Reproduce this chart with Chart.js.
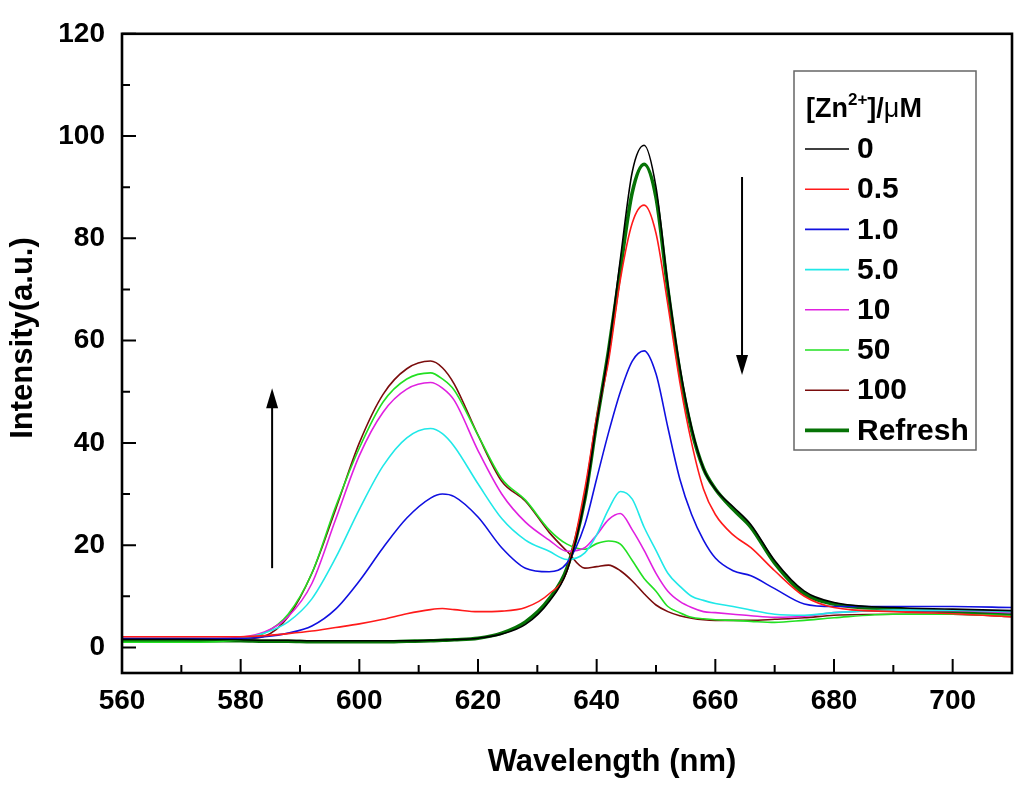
<!DOCTYPE html>
<html>
<head>
<meta charset="utf-8">
<script src="https://cdn.jsdelivr.net/npm/chart.js@4.4.1/dist/chart.umd.min.js"></script>
<style>
  html, body { margin: 0; padding: 0; background: #fff; }
  #wrap { width: 1024px; height: 788px; }
</style>
</head>
<body>
<div id="wrap"><canvas id="spectra" width="1024" height="788"></canvas></div>
<script>
// wavelengths (nm) shared by every spectrum
const wavelength = [560, 570, 580, 584, 588, 592, 596, 600, 604, 608, 612, 614, 616, 620, 624, 628, 632, 635, 638, 640, 642,
                    644, 646, 648, 650, 652, 654, 656, 658, 660, 663, 666, 670, 675, 680, 690, 700, 710];

// intensities (a.u.), one array per [Zn2+]
const zn0     = [1.6, 1.6, 1.5, 1.4, 1.4, 1.3, 1.3, 1.3, 1.3, 1.3, 1.4, 1.45, 1.5, 1.8, 2.6, 4.5, 9, 15, 29, 44, 58,
                 76, 93, 98.2, 90, 71, 55, 43, 35, 31, 27.5, 24, 17, 11, 8.8, 7.8, 7.5, 7.2];
const zn05    = [2.1, 2.1, 2.1, 2.3, 2.7, 3.2, 3.9, 4.6, 5.5, 6.6, 7.4, 7.6, 7.4, 7.0, 7.1, 7.8, 10.5, 15, 31, 45, 56,
                 72, 83, 86.5, 81, 67, 52, 40, 31, 26, 22, 19.5, 15, 10, 7.8, 7.0, 6.6, 6.0];
const zn1     = [1.8, 1.8, 1.8, 2.1, 2.8, 4.2, 7.5, 13, 19.5, 25.3, 29.2, 30, 29.5, 25.5, 19.5, 15.5, 14.8, 16.5, 24, 33, 42,
                 50, 56, 58, 53.5, 43, 33, 26, 21, 17.5, 15, 14, 11.5, 8.5, 8, 8, 8, 7.8];
const zn5     = [1.6, 1.6, 1.8, 2.8, 5.0, 9.5, 17.5, 27, 35.5, 41, 42.8, 41.8, 39.3, 32, 25.2, 21, 18.8, 17.2, 18.5, 22, 27,
                 30.5, 29.0, 23.5, 19, 14.5, 12, 10, 9.2, 8.6, 8, 7.3, 6.5, 6.3, 6.8, 7.3, 7.3, 7.0];
const zn10    = [1.6, 1.6, 2.0, 3.0, 6.0, 12.5, 25, 37.5, 46, 50.5, 51.8, 50.7, 48.3, 38.5, 30, 24.5, 21, 18.8, 19.5, 22, 25,
                 26.2, 23, 19, 14.5, 11, 9, 7.8, 7, 6.8, 6.5, 6.2, 5.9, 6.1, 6.8, 7.2, 7.2, 6.8];
const zn50    = [1.0, 1.0, 1.5, 2.8, 6.5, 14.5, 27.5, 39, 48, 52.5, 53.7, 52.5, 50.3, 41.5, 33, 28.8, 23, 20.2, 19.2, 20.3, 20.8,
                 20.2, 17, 13.5, 11, 8, 6.8, 5.9, 5.6, 5.4, 5.3, 5.1, 4.9, 5.3, 5.8, 6.5, 6.5, 6.2];
const zn100   = [1.7, 1.7, 1.7, 2.2, 6, 14.5, 27, 40, 49.5, 54.5, 56, 54.7, 51.5, 41.5, 32.5, 28.6, 22.5, 18.8, 15.5, 15.8, 16.1,
                 15, 13, 10.5, 8.3, 7, 6.2, 5.7, 5.4, 5.3, 5.3, 5.3, 5.5, 5.8, 6.3, 6.5, 6.5, 6.0];
const refresh = [1.3, 1.3, 1.3, 1.2, 1.2, 1.1, 1.1, 1.1, 1.1, 1.2, 1.3, 1.4, 1.5, 1.8, 2.8, 5, 9.5, 15.5, 29, 44, 58,
                 74, 89, 94.5, 88, 70, 54, 42.5, 35, 31, 27, 23.5, 16.5, 10.5, 8.5, 7.5, 7, 6.5];

const seriesLabels = ['0', '0.5', '1.0', '5.0', '10', '50', '100', 'Refresh'];
const seriesValues = [zn0, zn05, zn1, zn5, zn10, zn50, zn100, refresh];
const seriesColors = ['#000000', '#ff1a1a', '#1010e0', '#20e8e8', '#e020e0', '#22e022', '#7a0c0c', '#067306'];
const seriesWidths = [1.6, 1.6, 1.6, 1.6, 1.6, 1.6, 1.6, 3.6];

// arrows: x position and start/end intensity
const arrows = [
  { x: 585.3, from: 15.5, to: 50.7 },
  { x: 664.5, from: 92, to: 53.3 }
];

const FONT = "'Liberation Sans', Arial, Helvetica, sans-serif";

const datasets = seriesLabels.map((lab, i) => ({
  label: lab,
  data: wavelength.map((w, j) => ({ x: w, y: seriesValues[i][j] })),
  borderColor: seriesColors[i],
  borderWidth: seriesWidths[i],
  pointRadius: 0,
  fill: false,
  cubicInterpolationMode: 'monotone'
}));

// frame, inward ticks, axis titles and arrows
const frameTicks = {
  id: 'frameTicks',
  afterDraw(chart) {
    const { ctx, chartArea: a, scales: { x, y } } = chart;
    ctx.save();
    ctx.strokeStyle = '#000';
    ctx.lineWidth = 2;
    ctx.beginPath();
    x.ticks.forEach(t => {
      const px = x.getPixelForValue(t.value);
      ctx.moveTo(px, a.bottom); ctx.lineTo(px, a.bottom - 14);
      const mv = t.value + 10;
      if (mv < x.max) {
        const pm = x.getPixelForValue(mv);
        ctx.moveTo(pm, a.bottom); ctx.lineTo(pm, a.bottom - 8);
      }
    });
    y.ticks.forEach(t => {
      const py = y.getPixelForValue(t.value);
      ctx.moveTo(a.left, py); ctx.lineTo(a.left + 14, py);
      const mv = t.value + 10;
      if (mv < y.max) {
        const pm = y.getPixelForValue(mv);
        ctx.moveTo(a.left, pm); ctx.lineTo(a.left + 8, pm);
      }
    });
    ctx.stroke();

    ctx.lineWidth = 2.6;
    ctx.strokeRect(a.left, a.top, a.right - a.left, a.bottom - a.top);

    // arrows
    ctx.lineWidth = 2;
    ctx.fillStyle = '#000';
    arrows.forEach(ar => {
      const px = x.getPixelForValue(ar.x);
      const p0 = y.getPixelForValue(ar.from);
      const p1 = y.getPixelForValue(ar.to);
      const dir = p1 < p0 ? 1 : -1;
      ctx.beginPath();
      ctx.moveTo(px, p0); ctx.lineTo(px, p1 + dir * 16);
      ctx.stroke();
      ctx.beginPath();
      ctx.moveTo(px, p1);
      ctx.lineTo(px - 6, p1 + dir * 20);
      ctx.lineTo(px + 6, p1 + dir * 20);
      ctx.closePath();
      ctx.fill();
    });

    // axis titles
    ctx.font = 'bold 31px ' + FONT;
    ctx.textAlign = 'center';
    ctx.textBaseline = 'middle';
    ctx.fillText('Wavelength (nm)', 612, 762);
    ctx.save();
    ctx.translate(23, 338);
    ctx.rotate(-Math.PI / 2);
    ctx.fillText('Intensity(a.u.)', 0, 0);
    ctx.restore();
    ctx.restore();
  }
};

// legend box drawn from the datasets
const boxLegend = {
  id: 'boxLegend',
  afterDraw(chart) {
    const { ctx } = chart;
    const bx = 794, by = 71, bw = 182, bh = 379;
    ctx.save();
    ctx.fillStyle = '#fff';
    ctx.fillRect(bx, by, bw, bh);
    ctx.strokeStyle = '#666';
    ctx.lineWidth = 1.5;
    ctx.strokeRect(bx, by, bw, bh);

    // title [Zn2+]/μM
    ctx.fillStyle = '#000';
    ctx.textBaseline = 'middle';
    ctx.textAlign = 'left';
    let tx = 806;
    const ty = 110;
    const parts = [
      { t: '[Zn', f: 'bold 27px ' + FONT, dy: 0 },
      { t: '2+', f: 'bold 17px ' + FONT, dy: -10 },
      { t: ']/', f: 'bold 27px ' + FONT, dy: 0 },
      { t: 'μ', f: '27px ' + FONT, dy: 0 },
      { t: 'M', f: 'bold 27px ' + FONT, dy: 0 }
    ];
    parts.forEach(p => {
      ctx.font = p.f;
      ctx.fillText(p.t, tx, ty + p.dy);
      tx += ctx.measureText(p.t).width;
    });

    ctx.font = 'bold 30px ' + FONT;
    chart.data.datasets.forEach((ds, i) => {
      const ry = 149 + i * 40.2;
      ctx.strokeStyle = ds.borderColor;
      ctx.lineWidth = ds.borderWidth;
      ctx.beginPath();
      ctx.moveTo(805, ry); ctx.lineTo(849, ry);
      ctx.stroke();
      ctx.fillText(ds.label, 857, ry + 1);
    });
    ctx.restore();
  }
};

new Chart(document.getElementById('spectra'), {
  type: 'line',
  data: { datasets },
  options: {
    responsive: false,
    animation: false,
    devicePixelRatio: 1,
    layout: { padding: { left: 0, right: 12, top: 27, bottom: 0 } },
    plugins: { legend: { display: false }, tooltip: { enabled: false } },
    scales: {
      x: {
        type: 'linear',
        min: 560, max: 710,
        grid: { display: false, drawTicks: false },
        border: { display: false },
        ticks: {
          stepSize: 20, includeBounds: false, padding: 11,
          color: '#000', font: { family: FONT, size: 28, weight: 'bold' }
        },
        afterFit(s) { s.height = 115; }
      },
      y: {
        type: 'linear',
        min: -5, max: 120,
        grid: { display: false, drawTicks: false },
        border: { display: false },
        ticks: {
          stepSize: 20, includeBounds: false, padding: 17,
          color: '#000', font: { family: FONT, size: 28, weight: 'bold' }
        },
        afterFit(s) { s.width = 122; }
      }
    }
  },
  plugins: [frameTicks, boxLegend]
});
</script>
</body>
</html>
